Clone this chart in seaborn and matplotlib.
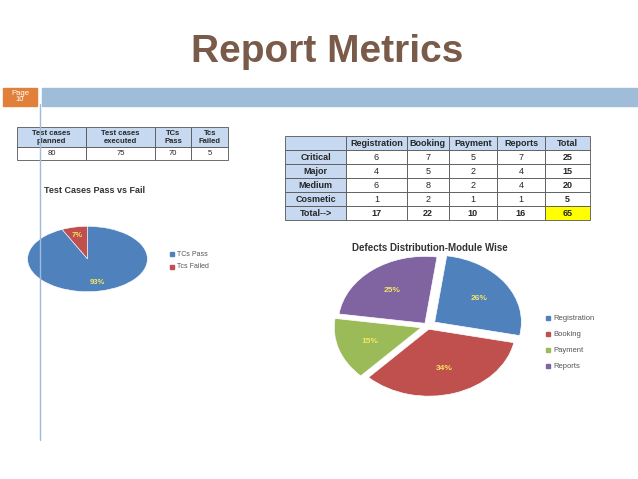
import matplotlib.pyplot as plt
import seaborn as sns

sns.set_theme(style="white")
plt.rcParams['font.family'] = ['Liberation Sans', 'DejaVu Sans']

tc_headers = ["Test cases\nplanned", "Test cases\nexecuted", "TCs\nPass", "Tcs\nFailed"]
tc_values = ["80", "75", "70", "5"]

modules = ["Registration", "Booking", "Payment", "Reports"]
severities = ["Critical", "Major", "Medium", "Cosmetic"]
defects = [[6, 7, 5, 7], [4, 5, 2, 4], [6, 8, 2, 4], [1, 2, 1, 1]]

pf_labels = ["Tcs Failed", "TCs Pass"]
pf_values = [7, 93]

module_share = [26, 34, 15, 25]

W, H = 638, 479
fig = plt.figure(figsize=(W / 100, H / 100), dpi=100)
fig.patch.set_facecolor("white")


def fx(x):
    return x / W


def fy(y):
    return 1 - y / H


# title and header bar
fig.text(fx(327), fy(52), "Report Metrics", ha="center", va="center",
         fontsize=28, fontweight="bold", color="#7a5a48")
fig.patches.append(plt.Rectangle((fx(3), fy(106)), fx(34), 18 / H, transform=fig.transFigure,
                                 color="#e0803a"))
fig.text(fx(20), fy(97), "Page\n10", ha="center", va="center", fontsize=5.5, color="white",
         linespacing=0.8)
fig.patches.append(plt.Rectangle((fx(42), fy(106)), fx(596), 18 / H, transform=fig.transFigure,
                                 color="#9fbcd8"))
fig.lines.append(plt.Line2D([fx(40), fx(40)], [fy(104), fy(440)], transform=fig.transFigure,
                            color="#9fbcd8", lw=1))

blue = "#4f81bd"
red = "#c0504d"
green = "#9bbb59"
purple = "#8064a2"
head_bg = "#c6d9f1"

# left table
ax_t1 = fig.add_axes([fx(17), fy(160), fx(211), 33 / H])
ax_t1.axis("off")
t1 = ax_t1.table(cellText=[tc_values], colLabels=tc_headers, loc="center",
                 cellLoc="center", colWidths=[0.32, 0.32, 0.17, 0.17], bbox=[0, 0, 1, 1])
t1.auto_set_font_size(False)
for (r, c), cell in t1.get_celld().items():
    cell.set_fontsize(5.5)
    cell.set_linewidth(0.6)
    cell.set_edgecolor("#555555")
    if r == 0:
        cell.set_facecolor(head_bg)
        cell.get_text().set_fontweight("bold")
        cell.set_height(0.62)
    else:
        cell.set_height(0.38)

# right table
rows = []
for sev, vals in zip(severities, defects):
    rows.append([sev] + [str(v) for v in vals] + [str(sum(vals))])
col_tot = [sum(v[i] for v in defects) for i in range(len(modules))]
rows.append(["Total-->"] + [str(v) for v in col_tot] + [str(sum(col_tot))])
ax_t2 = fig.add_axes([fx(285), fy(220), fx(305), 84 / H])
ax_t2.axis("off")
t2 = ax_t2.table(cellText=rows, colLabels=[""] + modules + ["Total"], loc="center",
                 cellLoc="center", colWidths=[0.19, 0.19, 0.13, 0.15, 0.15, 0.14],
                 bbox=[0, 0, 1, 1])
t2.auto_set_font_size(False)
nrows = len(rows)
for (r, c), cell in t2.get_celld().items():
    cell.set_fontsize(6.5)
    cell.set_linewidth(0.6)
    cell.set_edgecolor("#555555")
    if r == 0 or c == 0:
        cell.set_facecolor(head_bg)
        cell.get_text().set_fontweight("bold")
    if c == 5 or r == nrows:
        cell.get_text().set_fontweight("bold")
    if r == nrows and c == 5:
        cell.set_facecolor("#ffff00")

# left pie
fig.text(fx(95), fy(191), "Test Cases Pass vs Fail", ha="center", va="center",
         fontsize=6.5, fontweight="bold", color="#333333")
ax_p1 = fig.add_axes([fx(27), fy(292), fx(121), 66 / H])
ax_p1.pie(pf_values, colors=[red, blue], startangle=90, counterclock=True,
          labels=None, autopct="%d%%", pctdistance=0.75,
          textprops=dict(color="#f5e663", fontsize=5.5, fontweight="bold"),
          wedgeprops=dict(edgecolor="white", linewidth=0.4))
ax_p1.set_aspect("auto")
ax_p1.set_xlim(-1.01, 1.01)
ax_p1.set_ylim(-1.01, 1.01)
for lbl, col, yy in zip(["TCs Pass", "Tcs Failed"], [blue, red], [254, 267]):
    fig.patches.append(plt.Rectangle((fx(170), fy(yy + 2)), 4 / W, 4 / H,
                                     transform=fig.transFigure, color=col))
    fig.text(fx(177), fy(yy), lbl, va="center", fontsize=5, color="#555555")

# right pie
fig.text(fx(430), fy(248), "Defects Distribution-Module Wise", ha="center", va="center",
         fontsize=7, fontweight="bold", color="#333333")
ax_p2 = fig.add_axes([fx(333), fy(397), fx(190), 142 / H])
ax_p2.pie(module_share, colors=[blue, red, green, purple], startangle=82,
          counterclock=False, explode=[0.1, 0.05, 0.08, 0.05], autopct="%d%%",
          pctdistance=0.62, textprops=dict(color="#f5e663", fontsize=6, fontweight="bold"),
          wedgeprops=dict(edgecolor="white", linewidth=0.5))
ax_p2.set_aspect("auto")
ax_p2.set_xlim(-1.09, 1.1)
ax_p2.set_ylim(-1.06, 1.06)
for lbl, col, yy in zip(modules, [blue, red, green, purple], [318, 334, 350, 366]):
    fig.patches.append(plt.Rectangle((fx(546), fy(yy + 2)), 4 / W, 4 / H,
                                     transform=fig.transFigure, color=col))
    fig.text(fx(553), fy(yy), lbl, va="center", fontsize=5.5, color="#555555")

fig.savefig("out.png", dpi=100, facecolor="white")
